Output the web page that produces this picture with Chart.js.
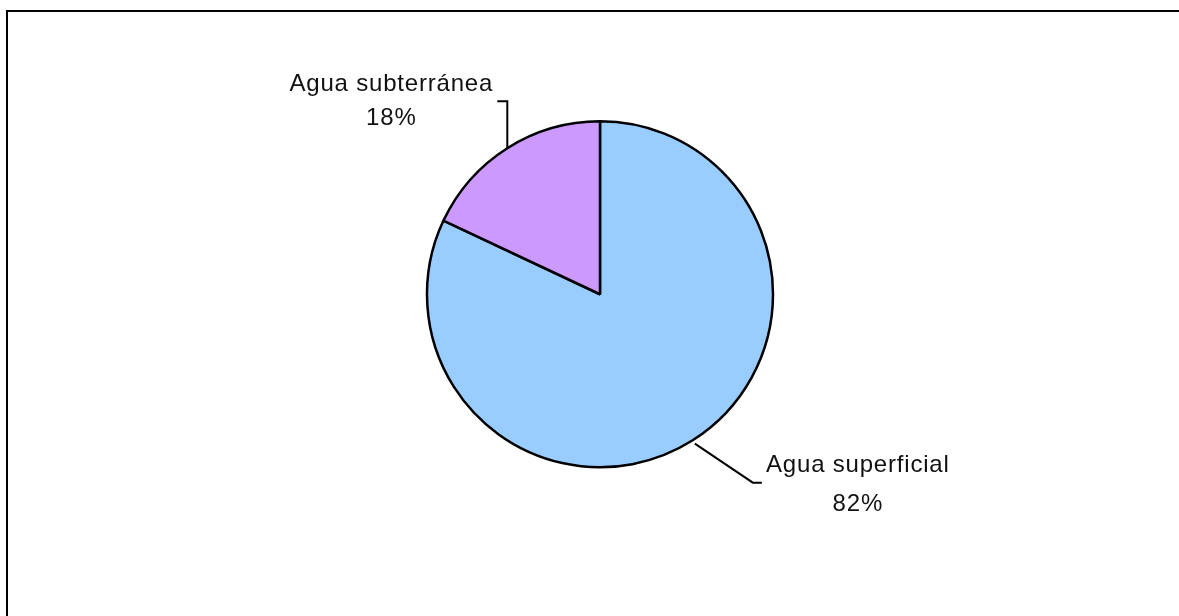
<!DOCTYPE html>
<html>
<head>
<meta charset="utf-8">
<script src="https://cdn.jsdelivr.net/npm/chart.js@4/dist/chart.umd.min.js"></script>
<style>
  html, body { margin: 0; padding: 0; background: #fff; overflow: hidden; }
  #wrap { position: relative; width: 1179px; height: 616px; }
  #frame { position: absolute; left: 6px; top: 10px; width: 1300px; height: 800px;
           border: 2.5px solid #000; box-sizing: border-box; pointer-events: none; }
  canvas { position: absolute; left: 0; top: 0; }
</style>
</head>
<body>
<div id="wrap">
  <canvas id="c" width="1179" height="616"></canvas>
  <div id="frame"></div>
</div>
<script>
// Origen del agua
const categories = ['Agua superficial', 'Agua subterránea'];
const values = [82, 18];
const sliceColors = ['#99CCFF', '#CC99FF'];

// Leader line / label layout per slice, relative to the slice's outer mid-point
const labelLayout = [
  { anchorPad: 4, path: [[58, 39], [67, 39]], textDx: 163, nameDy: 28, pctDy: 67 },
  { anchorPad: 0, path: [[0, -47], [-10, -47]], textDx: -116, nameDy: -57, pctDy: -23 }
];

const total = values.reduce((a, b) => a + b, 0);

const pieLabels = {
  id: 'pieLabels',
  afterDatasetsDraw(chart) {
    const ctx = chart.ctx;
    const meta = chart.getDatasetMeta(0);
    ctx.save();
    meta.data.forEach((arc, i) => {
      const p = arc.getProps(['x', 'y', 'startAngle', 'endAngle', 'outerRadius'], true);
      const mid = (p.startAngle + p.endAngle) / 2;
      const lay = labelLayout[i];
      const r = p.outerRadius + lay.anchorPad;
      const ax = p.x + Math.cos(mid) * r;
      const ay = p.y + Math.sin(mid) * r;
      ctx.beginPath();
      ctx.strokeStyle = '#000';
      ctx.lineWidth = 2;
      ctx.lineJoin = 'miter';
      ctx.moveTo(ax, ay);
      lay.path.forEach(([dx, dy]) => ctx.lineTo(ax + dx, ay + dy));
      ctx.stroke();

      ctx.fillStyle = '#111';
      ctx.font = '24px "Liberation Sans", Arial, sans-serif';
      ctx.letterSpacing = '0.8px';
      ctx.textAlign = 'center';
      ctx.textBaseline = 'alphabetic';
      const tx = ax + lay.textDx;
      ctx.fillText(categories[i], tx, ay + lay.nameDy);
      const pct = Math.round(values[i] / total * 100) + '%';
      ctx.fillText(pct, tx, ay + lay.pctDy);
    });
    ctx.restore();
  }
};

new Chart(document.getElementById('c'), {
  type: 'pie',
  data: {
    labels: categories,
    datasets: [{
      data: values,
      backgroundColor: sliceColors,
      borderColor: '#000',
      borderWidth: 2.5
    }]
  },
  options: {
    responsive: false,
    animation: false,
    layout: { padding: { left: 400, right: 379, top: 120, bottom: 147.5 } },
    plugins: {
      legend: { display: false },
      tooltip: { enabled: false },
      title: { display: false }
    }
  },
  plugins: [pieLabels]
});
</script>
</body>
</html>
